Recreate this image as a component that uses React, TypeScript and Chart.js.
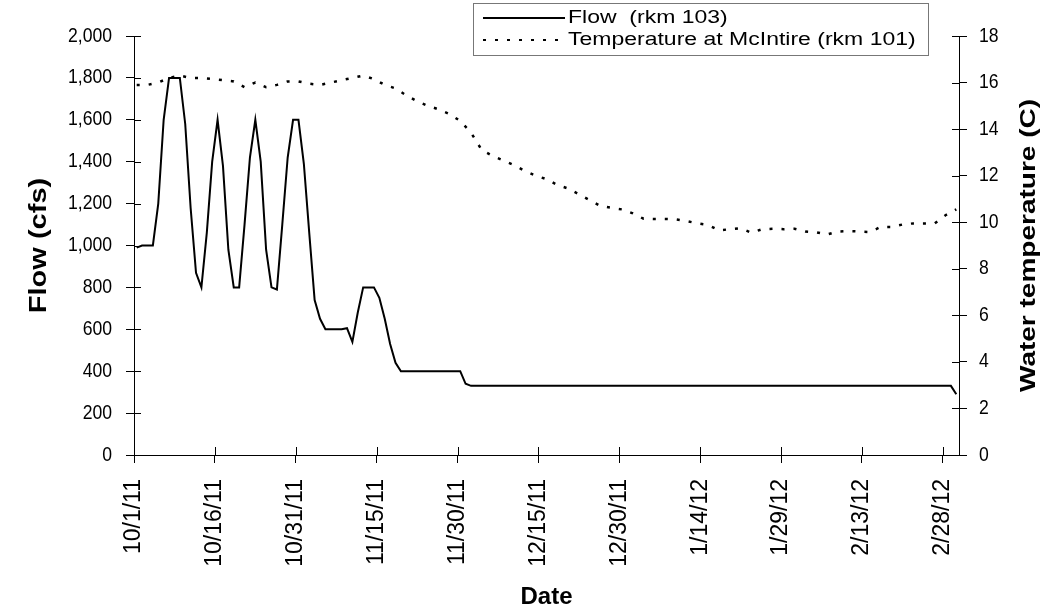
import React, { useEffect, useRef } from "react";
import { Chart, registerables } from "chart.js";

Chart.register(...registerables);

// ---- data ----
const tickDays = [0, 15, 30, 45, 60, 75, 90, 105, 120, 135, 150];
const tickLabels = ["10/1/11", "10/16/11", "10/31/11", "11/15/11", "11/30/11", "12/15/11", "12/30/11", "1/14/12", "1/29/12", "2/13/12", "2/28/12"];

// daily flow (cfs), day 0 = 10/1/11
const flowCfs = [
  990, 1000, 1000, 1000, 1200, 1600, 1800, 1800, 1800, 1580,
  1180, 870, 800, 1060, 1400, 1600, 1380, 980, 800, 800,
  1100, 1420, 1600, 1400, 980, 800, 790, 1100, 1420, 1600,
  1600, 1390, 1060, 740, 650, 600, 600, 600, 600, 605,
  540, 680, 800, 800, 800, 750, 650, 530, 440, 400,
  400, 400, 400, 400, 400, 400, 400, 400, 400, 400,
  400, 340, 330, 330, 330, 330, 330, 330, 330, 330,
  330, 330, 330, 330, 330, 330, 330, 330, 330, 330,
  330, 330, 330, 330, 330, 330, 330, 330, 330, 330,
  330, 330, 330, 330, 330, 330, 330, 330, 330, 330,
  330, 330, 330, 330, 330, 330, 330, 330, 330, 330,
  330, 330, 330, 330, 330, 330, 330, 330, 330, 330,
  330, 330, 330, 330, 330, 330, 330, 330, 330, 330,
  330, 330, 330, 330, 330, 330, 330, 330, 330, 330,
  330, 330, 330, 330, 330, 330, 330, 330, 330, 330,
  330, 330, 290,
];

// water temperature (C) at McIntire, read every second day
const tempDays = [
  0, 2, 4, 6, 8, 10, 12, 14, 16, 18, 20, 22, 24, 26, 28, 30, 32, 34, 36, 38,
  40, 42, 44, 46, 48, 50, 52, 54, 56, 58, 60, 62, 64, 66, 68, 70, 72, 74, 76, 78,
  80, 82, 84, 86, 88, 90, 92, 94, 96, 98, 100, 102, 104, 106, 108, 110, 112, 114, 116, 118,
  120, 122, 124, 126, 128, 130, 132, 134, 136, 138, 140, 142, 144, 146, 148, 150, 152,
];
const tempC = [
  15.9, 15.9, 16.0, 16.2, 16.3, 16.2, 16.2, 16.15, 16.1, 16.05, 15.8, 16.0, 15.8, 15.9, 16.05, 16.05, 15.95, 15.9, 16.0, 16.1,
  16.2, 16.3, 16.15, 15.9, 15.75, 15.45, 15.2, 15.0, 14.85, 14.65, 14.35, 13.85, 13.1, 12.85, 12.65, 12.45, 12.2, 12.0, 11.85, 11.6,
  11.45, 11.2, 10.95, 10.7, 10.62, 10.55, 10.38, 10.15, 10.14, 10.14, 10.12, 10.05, 9.95, 9.88, 9.65, 9.7, 9.74, 9.55, 9.7, 9.72,
  9.7, 9.72, 9.6, 9.57, 9.47, 9.6, 9.62, 9.6, 9.58, 9.8, 9.8, 9.9, 9.95, 9.95, 9.95, 10.3, 10.55,
];

const flowLabel = "Flow  (rkm 103)";
const tempLabel = "Temperature at McIntire (rkm 101)";
const leftTitle = "Flow (cfs)";
const rightTitle = "Water temperature (C)";
const bottomTitle = "Date";

const FONT = '"Liberation Sans", Arial, sans-serif';

const overlay = {
  id: "overlay",
  afterDraw(chart: any) {
    const { ctx, chartArea: ca, scales } = chart;
    ctx.save();
    ctx.strokeStyle = "#000";
    ctx.lineWidth = 1;
    const seg = (x1: number, y1: number, x2: number, y2: number) => {
      ctx.beginPath();
      ctx.moveTo(x1, y1);
      ctx.lineTo(x2, y2);
      ctx.stroke();
    };
    // inner halves of the crossing tick marks
    scales.y.ticks.forEach((_t: any, i: number) => {
      const p = Math.round(scales.y.getPixelForTick(i)) + 0.5;
      seg(ca.left, p, ca.left + 7, p);
    });
    scales.y1.ticks.forEach((_t: any, i: number) => {
      const p = Math.round(scales.y1.getPixelForTick(i)) + 0.5;
      seg(ca.right - 7, p, ca.right, p);
    });
    scales.x.ticks.forEach((_t: any, i: number) => {
      const p = Math.round(scales.x.getPixelForTick(i)) + 0.5;
      seg(p, ca.bottom - 8, p, ca.bottom);
    });

    // y tick labels (slightly condensed, like the original rendering)
    ctx.fillStyle = "#000";
    ctx.font = `20px ${FONT}`;
    ctx.textBaseline = "middle";
    ctx.textAlign = "right";
    scales.y.ticks.forEach((t: any, i: number) => {
      const p = scales.y.getPixelForTick(i);
      ctx.save();
      ctx.translate(112, p);
      ctx.scale(0.88, 1);
      ctx.fillText(t.label, 0, 0);
      ctx.restore();
    });
    ctx.textAlign = "left";
    scales.y1.ticks.forEach((t: any, i: number) => {
      const p = scales.y1.getPixelForTick(i);
      ctx.save();
      ctx.translate(979, p);
      ctx.scale(0.88, 1);
      ctx.fillText(t.label, 0, 0);
      ctx.restore();
    });

    // axis titles
    ctx.textAlign = "center";
    const midY = (ca.top + ca.bottom) / 2;
    ctx.font = `bold 29px ${FONT}`;
    ctx.save();
    ctx.translate(40, midY);
    ctx.rotate(-Math.PI / 2);
    ctx.scale(1, 0.8);
    ctx.fillText(leftTitle, 0, 0);
    ctx.restore();
    ctx.font = `bold 28px ${FONT}`;
    ctx.save();
    ctx.translate(1029, midY);
    ctx.rotate(-Math.PI / 2);
    ctx.scale(1, 0.8);
    ctx.fillText(rightTitle, 0, 0);
    ctx.restore();
    ctx.font = `bold 24px ${FONT}`;
    ctx.fillText(bottomTitle, (ca.left + ca.right) / 2, 597);

    // legend
    const bx = 473.5, by = 3.5, bw = 455, bh = 52;
    ctx.fillStyle = "#fff";
    ctx.fillRect(bx, by, bw, bh);
    ctx.strokeStyle = "#777";
    ctx.lineWidth = 1;
    ctx.strokeRect(bx, by, bw, bh);
    ctx.strokeStyle = "#000";
    ctx.lineWidth = 2;
    seg(483, 18, 565, 18);
    ctx.setLineDash([3, 9]);
    seg(483, 40, 565, 40);
    ctx.setLineDash([]);
    ctx.fillStyle = "#000";
    ctx.font = `23px ${FONT}`;
    ctx.textAlign = "left";
    ctx.save();
    ctx.translate(568, 18);
    ctx.scale(1, 0.82);
    ctx.fillText(flowLabel, 0, 0);
    ctx.restore();
    ctx.save();
    ctx.translate(568, 40);
    ctx.scale(1, 0.82);
    ctx.fillText(tempLabel, 0, 0);
    ctx.restore();
    ctx.restore();
  },
};

export default function App() {
  const ref = useRef<HTMLCanvasElement>(null);
  useEffect(() => {
    if (!ref.current) return;
    const flowPts = flowCfs.map((v, i) => ({ x: i, y: v }));
    const tempPts = tempDays.map((d, i) => ({ x: d, y: tempC[i] }));
    const chart = new Chart(ref.current, {
      type: "line",
      data: {
        datasets: [
          {
            label: flowLabel,
            data: flowPts,
            yAxisID: "y",
            borderColor: "#000",
            borderWidth: 2,
            pointRadius: 0,
            tension: 0,
          },
          {
            label: tempLabel,
            data: tempPts,
            yAxisID: "y1",
            borderColor: "#000",
            borderWidth: 2.5,
            borderDash: [3, 9],
            pointRadius: 0,
            tension: 0,
          },
        ],
      },
      options: {
        animation: false,
        responsive: false,
        layout: { padding: { top: 36, left: 0, right: 0, bottom: 0 } },
        plugins: { legend: { display: false }, tooltip: { enabled: false } },
        scales: {
          x: {
            type: "linear",
            min: -0.5,
            max: 152.5,
            afterBuildTicks: (s: any) => {
              s.ticks = tickDays.map((d) => ({ value: d - 0.5 }));
            },
            afterFit: (s: any) => {
              s.height = 156;
            },
            ticks: {
              autoSkip: false,
              maxRotation: 90,
              minRotation: 90,
              padding: 16,
              color: "#000",
              font: { family: FONT, size: 23 },
              callback: (_v: any, i: number) => tickLabels[i],
            },
            grid: { drawOnChartArea: false, tickLength: 8, color: "#000" },
            border: { color: "#000", width: 1 },
          },
          y: {
            position: "left",
            min: 0,
            max: 2000,
            afterFit: (s: any) => {
              s.width = 134;
            },
            ticks: {
              stepSize: 200,
              display: false,
            },
            grid: { drawOnChartArea: false, tickLength: 8, color: "#000" },
            border: { color: "#000", width: 1 },
          },
          y1: {
            position: "right",
            min: 0,
            max: 18,
            afterFit: (s: any) => {
              s.width = 90;
            },
            ticks: {
              stepSize: 2,
              display: false,
            },
            grid: { drawOnChartArea: false, tickLength: 8, color: "#000" },
            border: { color: "#000", width: 1 },
          },
        },
      },
      plugins: [overlay],
    });
    return () => chart.destroy();
  }, []);
  return (
    <div style={{ position: "absolute", left: 0, top: 0, width: 1049, height: 611, background: "#fff" }}>
      <canvas ref={ref} width={1049} height={611} />
    </div>
  );
}
